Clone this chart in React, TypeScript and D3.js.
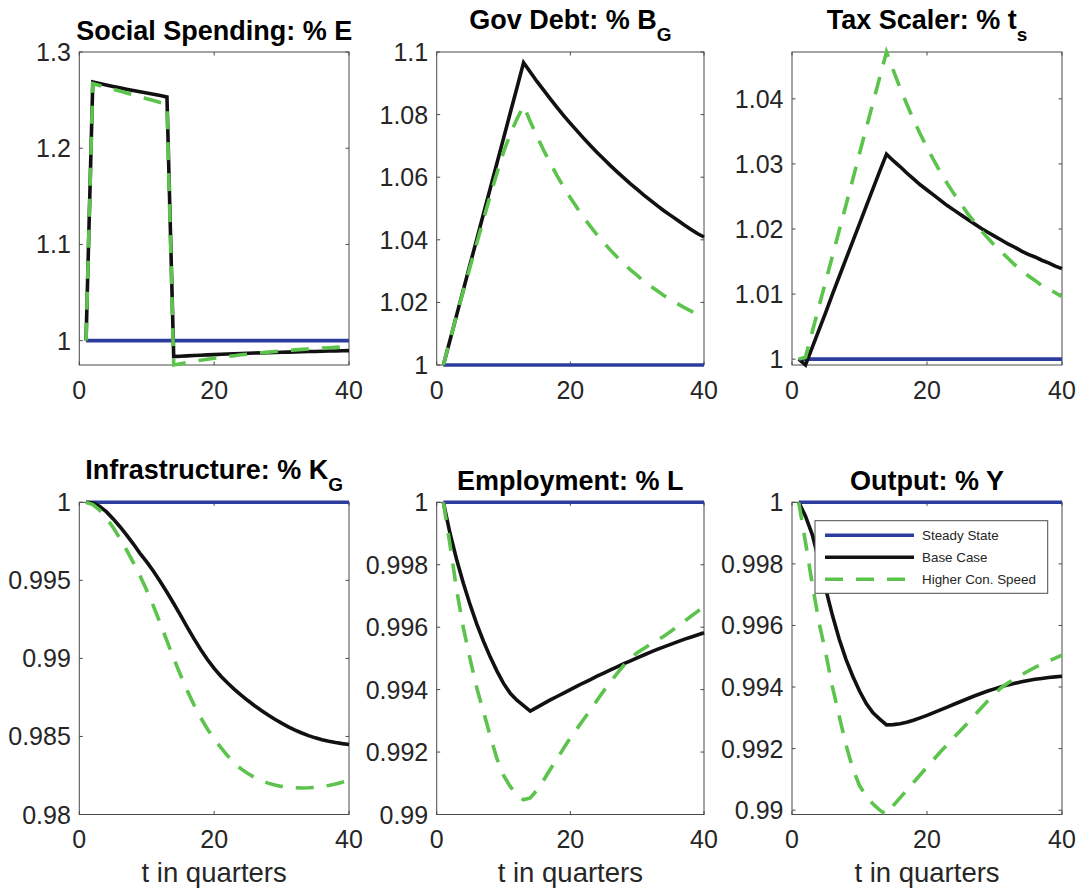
import React from 'react';
import * as d3 from 'd3';

// Quarters after the shock
const quarters = d3.range(1, 41);
const steadyState = 1;

// Social spending E (relative to steady state)
const socialBase = [
  1.0000, 1.2689, 1.2672, 1.2656, 1.2641, 1.2627, 1.2613, 1.2600, 1.2587, 1.2574, 1.2560, 1.2547, 1.2533,
  0.9834, 0.9838, 0.9842, 0.9846, 0.9849, 0.9852, 0.9855, 0.9858, 0.9861, 0.9864, 0.9866, 0.9869, 0.9871,
  0.9873, 0.9875, 0.9877, 0.9879, 0.9881, 0.9883, 0.9885, 0.9887, 0.9888, 0.9890, 0.9892, 0.9893, 0.9895, 0.9896,
];
const socialFast = [
  1.0000, 1.2671, 1.2652, 1.2633, 1.2613, 1.2594, 1.2574, 1.2554, 1.2535, 1.2515, 1.2496, 1.2476, 1.2457,
  0.9748, 0.9761, 0.9774, 0.9785, 0.9797, 0.9807, 0.9817, 0.9827, 0.9836, 0.9844, 0.9853, 0.9860, 0.9868,
  0.9874, 0.9881, 0.9887, 0.9893, 0.9899, 0.9904, 0.9909, 0.9914, 0.9918, 0.9922, 0.9927, 0.9930, 0.9934, 0.9937,
];

// Government debt B_G
const debtBase = [
  1.0000, 1.0080, 1.0161, 1.0241, 1.0322, 1.0402, 1.0483, 1.0563, 1.0644, 1.0724, 1.0805, 1.0885, 1.0966,
  1.0936, 1.0906, 1.0878, 1.0850, 1.0823, 1.0797, 1.0772, 1.0748, 1.0724, 1.0701, 1.0679, 1.0658, 1.0637,
  1.0617, 1.0598, 1.0579, 1.0561, 1.0543, 1.0526, 1.0509, 1.0493, 1.0478, 1.0463, 1.0448, 1.0434, 1.0420, 1.0409,
];
const debtFast = [
  1.0000, 1.0080, 1.0160, 1.0238, 1.0314, 1.0390, 1.0465, 1.0540, 1.0612, 1.0680, 1.0738, 1.0786, 1.0828,
  1.0778, 1.0731, 1.0686, 1.0645, 1.0605, 1.0569, 1.0534, 1.0502, 1.0471, 1.0443, 1.0416, 1.0391, 1.0367,
  1.0345, 1.0324, 1.0304, 1.0286, 1.0268, 1.0252, 1.0237, 1.0222, 1.0209, 1.0196, 1.0184, 1.0173, 1.0163, 1.0153,
];

// Tax scaler t_s
const taxBase = [
  1.0000, 0.9991, 1.0018, 1.0045, 1.0072, 1.0100, 1.0127, 1.0154, 1.0181, 1.0208, 1.0235, 1.0262, 1.0289, 1.0315,
  1.0305, 1.0296, 1.0286, 1.0277, 1.0268, 1.0260, 1.0252, 1.0244, 1.0236, 1.0229, 1.0222, 1.0215, 1.0208,
  1.0201, 1.0195, 1.0189, 1.0183, 1.0177, 1.0172, 1.0166, 1.0161, 1.0157, 1.0152, 1.0148, 1.0143, 1.0139,
];
const taxFast = [
  1.0000, 1.0003, 1.0042, 1.0081, 1.0120, 1.0159, 1.0198, 1.0237, 1.0276, 1.0316, 1.0355, 1.0394, 1.0433, 1.0472,
  1.0444, 1.0417, 1.0392, 1.0368, 1.0346, 1.0325, 1.0306, 1.0287, 1.0270, 1.0254, 1.0239, 1.0224, 1.0211,
  1.0198, 1.0186, 1.0175, 1.0165, 1.0155, 1.0145, 1.0137, 1.0128, 1.0121, 1.0113, 1.0108, 1.0102, 1.0096,
];

// Infrastructure K_G
const infraBase = [
  1.00000, 0.99995, 0.99975, 0.99940, 0.99895, 0.99845, 0.99791, 0.99734, 0.99673, 0.99618,
  0.99558, 0.99493, 0.99424, 0.99352, 0.99277, 0.99201, 0.99127, 0.99057, 0.98993, 0.98936,
  0.98886, 0.98842, 0.98802, 0.98765, 0.98730, 0.98697, 0.98666, 0.98637, 0.98610, 0.98585,
  0.98562, 0.98541, 0.98522, 0.98505, 0.98491, 0.98479, 0.98469, 0.98461, 0.98454, 0.98448,
];
const infraFast = [
  1.00000, 0.99985, 0.99950, 0.99900, 0.99840, 0.99770, 0.99695, 0.99615, 0.99530, 0.99437,
  0.99335, 0.99225, 0.99112, 0.99000, 0.98895, 0.98795, 0.98703, 0.98620, 0.98548, 0.98485,
  0.98428, 0.98376, 0.98330, 0.98292, 0.98262, 0.98237, 0.98217, 0.98201, 0.98189, 0.98180,
  0.98174, 0.98171, 0.98170, 0.98171, 0.98174, 0.98179, 0.98186, 0.98195, 0.98207, 0.98220,
];

// Employment L
const laborBase = [
  1.00000, 0.99900, 0.99815, 0.99740, 0.99672, 0.99610, 0.99555, 0.99505, 0.99460, 0.99420,
  0.99388, 0.99366, 0.99349, 0.99331, 0.99343, 0.99355, 0.99367, 0.99378, 0.99389, 0.99400,
  0.99411, 0.99422, 0.99432, 0.99443, 0.99453, 0.99463, 0.99473, 0.99483, 0.99492, 0.99502,
  0.99511, 0.99520, 0.99529, 0.99537, 0.99545, 0.99553, 0.99561, 0.99568, 0.99575, 0.99582,
];
const laborFast = [
  1.00000, 0.99863, 0.99717, 0.99597, 0.99498, 0.99405, 0.99330, 0.99252, 0.99180, 0.99125,
  0.99090, 0.99062, 0.99047, 0.99053, 0.99078, 0.99110, 0.99145, 0.99178, 0.99212, 0.99246,
  0.99275, 0.99305, 0.99335, 0.99366, 0.99396, 0.99425, 0.99452, 0.99478, 0.99500, 0.99518,
  0.99532, 0.99545, 0.99558, 0.99571, 0.99586, 0.99602, 0.99618, 0.99634, 0.99650, 0.99666,
];

// Output Y
const outputBase = [
  1.00000, 0.99955, 0.99895, 0.99810, 0.99718, 0.99632, 0.99555, 0.99490, 0.99435, 0.99387,
  0.99346, 0.99316, 0.99296, 0.99277, 0.99278, 0.99281, 0.99286, 0.99292, 0.99300, 0.99308,
  0.99317, 0.99326, 0.99335, 0.99344, 0.99353, 0.99362, 0.99371, 0.99379, 0.99387, 0.99394,
  0.99401, 0.99407, 0.99412, 0.99417, 0.99421, 0.99425, 0.99428, 0.99431, 0.99433, 0.99435,
];
const outputFast = [
  1.00000, 0.99870, 0.99735, 0.99610, 0.99510, 0.99400, 0.99305, 0.99212, 0.99135, 0.99080,
  0.99045, 0.99020, 0.99000, 0.98986, 0.99015, 0.99040, 0.99065, 0.99090, 0.99115, 0.99140,
  0.99165, 0.99190, 0.99213, 0.99237, 0.99260, 0.99283, 0.99307, 0.99331, 0.99355, 0.99378,
  0.99398, 0.99413, 0.99427, 0.99440, 0.99452, 0.99464, 0.99474, 0.99484, 0.99494, 0.99504,
];

// Axis ticks
const xTicks = [0, 20, 40];
const xTickLabels = ['0', '20', '40'];
const socialTicks = [1, 1.1, 1.2, 1.3];
const socialTickLabels = ['1', '1.1', '1.2', '1.3'];
const debtTicks = [1, 1.02, 1.04, 1.06, 1.08, 1.1];
const debtTickLabels = ['1', '1.02', '1.04', '1.06', '1.08', '1.1'];
const taxTicks = [1, 1.01, 1.02, 1.03, 1.04];
const taxTickLabels = ['1', '1.01', '1.02', '1.03', '1.04'];
const infraTicks = [0.98, 0.985, 0.99, 0.995, 1];
const infraTickLabels = ['0.98', '0.985', '0.99', '0.995', '1'];
const pctTicks = [0.99, 0.992, 0.994, 0.996, 0.998, 1];
const pctTickLabels = ['0.99', '0.992', '0.994', '0.996', '0.998', '1'];

const legendLabels = ['Steady State', 'Base Case', 'Higher Con. Speed'];
const xAxisLabel = 't in quarters';

type PanelSpec = {
  title: string;
  sub?: string;
  base: number[];
  fast: number[];
  yDomain: [number, number];
  yTicks: number[];
  yTickLabels: string[];
  row: number;
  col: number;
  legend?: boolean;
};

const panels: PanelSpec[] = [
  { title: 'Social Spending: % E', base: socialBase, fast: socialFast, yDomain: [0.9747, 1.3], yTicks: socialTicks, yTickLabels: socialTickLabels, row: 0, col: 0 },
  { title: 'Gov Debt: % B', sub: 'G', base: debtBase, fast: debtFast, yDomain: [1, 1.1], yTicks: debtTicks, yTickLabels: debtTickLabels, row: 0, col: 1 },
  { title: 'Tax Scaler: % t', sub: 's', base: taxBase, fast: taxFast, yDomain: [0.9991, 1.0472], yTicks: taxTicks, yTickLabels: taxTickLabels, row: 0, col: 2 },
  { title: 'Infrastructure: % K', sub: 'G', base: infraBase, fast: infraFast, yDomain: [0.98, 1], yTicks: infraTicks, yTickLabels: infraTickLabels, row: 1, col: 0 },
  { title: 'Employment: % L', base: laborBase, fast: laborFast, yDomain: [0.99, 1], yTicks: pctTicks, yTickLabels: pctTickLabels, row: 1, col: 1 },
  { title: 'Output: % Y', base: outputBase, fast: outputFast, yDomain: [0.98986, 1], yTicks: pctTicks, yTickLabels: pctTickLabels, row: 1, col: 2, legend: true },
];

const COL_LEFT = [79.3, 436.7, 792];
const COL_RIGHT = [349, 704, 1062];
const ROW_TOP = [52, 502.3];
const ROW_BOTTOM = [365, 814.5];

const COLORS = { steady: '#2c3d9d', base: '#111111', fast: '#5cc34c', axis: '#4a4a4a', text: '#262626' };
const LINE_W = 3.6;
const DASH = '18 13';
const FONT = '"Liberation Sans", Arial, Helvetica, sans-serif';

function Panel({ p }: { p: PanelSpec }) {
  const left = COL_LEFT[p.col];
  const right = COL_RIGHT[p.col];
  const top = ROW_TOP[p.row];
  const bottom = ROW_BOTTOM[p.row];
  const x = d3.scaleLinear().domain([0, 40]).range([left, right]);
  const y = d3.scaleLinear().domain(p.yDomain).range([bottom, top]);
  const line = d3
    .line<number>()
    .x((_, i) => x(quarters[i]))
    .y((d) => y(d));
  const steady = quarters.map(() => steadyState);
  const tickLen = 3.5;
  const cx = (left + right) / 2;

  return (
    <g>
      <rect x={left} y={top} width={right - left} height={bottom - top} fill="none" stroke={COLORS.axis} strokeWidth={1} />
      {p.yTicks.map((t, i) => (
        <g key={'y' + i}>
          <line x1={left} x2={left + tickLen} y1={y(t)} y2={y(t)} stroke={COLORS.axis} strokeWidth={1} />
          <line x1={right} x2={right - tickLen} y1={y(t)} y2={y(t)} stroke={COLORS.axis} strokeWidth={1} />
          <text x={left - 8.5} y={y(t) + 9} textAnchor="end" fontSize={25} fill={COLORS.text} fontFamily={FONT}>
            {p.yTickLabels[i]}
          </text>
        </g>
      ))}
      {xTicks.map((t, i) => (
        <g key={'x' + i}>
          <line x1={x(t)} x2={x(t)} y1={bottom} y2={bottom - tickLen} stroke={COLORS.axis} strokeWidth={1} />
          <line x1={x(t)} x2={x(t)} y1={top} y2={top + tickLen} stroke={COLORS.axis} strokeWidth={1} />
          <text x={x(t)} y={bottom + 33.8} textAnchor="middle" fontSize={25} fill={COLORS.text} fontFamily={FONT}>
            {xTickLabels[i]}
          </text>
        </g>
      ))}
      <path d={line(steady) || ''} fill="none" stroke={COLORS.steady} strokeWidth={LINE_W} />
      <path d={line(p.base) || ''} fill="none" stroke={COLORS.base} strokeWidth={LINE_W} strokeLinejoin="miter" />
      <path d={line(p.fast) || ''} fill="none" stroke={COLORS.fast} strokeWidth={LINE_W} strokeDasharray={DASH} />
      <text
        x={cx}
        y={top - (p.sub ? 23.5 : 12.3)}
        textAnchor="middle"
        fontSize={27}
        fontWeight="bold"
        fill="#000"
        fontFamily={FONT}
      >
        {p.title}
        {p.sub ? (
          <tspan dy={12} fontSize={19}>
            {p.sub}
          </tspan>
        ) : null}
      </text>
      {p.row === 1 ? (
        <text x={cx} y={881.5} textAnchor="middle" fontSize={27.5} fill={COLORS.text} fontFamily={FONT}>
          {xAxisLabel}
        </text>
      ) : null}
      {p.legend ? <Legend /> : null}
    </g>
  );
}

function Legend() {
  const bx = 815;
  const by = 520.7;
  const rows = [535.3, 557.3, 579.3];
  const styles = [
    { stroke: COLORS.steady, dash: undefined },
    { stroke: COLORS.base, dash: undefined },
    { stroke: COLORS.fast, dash: DASH },
  ];
  return (
    <g>
      <rect x={bx} y={by} width={232.7} height={72.6} fill="#fff" stroke={COLORS.axis} strokeWidth={1} />
      {legendLabels.map((lab, i) => (
        <g key={lab}>
          <line x1={825} x2={914} y1={rows[i]} y2={rows[i]} stroke={styles[i].stroke} strokeWidth={LINE_W} strokeDasharray={styles[i].dash} />
          <text x={922} y={rows[i] + 4.8} fontSize={13.4} fill={COLORS.text} fontFamily={FONT}>
            {lab}
          </text>
        </g>
      ))}
    </g>
  );
}

export default function App() {
  return (
    <svg
      width={1085}
      height={895}
      viewBox="0 0 1085 895"
      style={{ position: 'absolute', left: 0, top: 0, background: '#fff' }}
    >
      <rect x={0} y={0} width={1085} height={895} fill="#fff" />
      {panels.map((p, i) => (
        <Panel key={i} p={p} />
      ))}
    </svg>
  );
}
